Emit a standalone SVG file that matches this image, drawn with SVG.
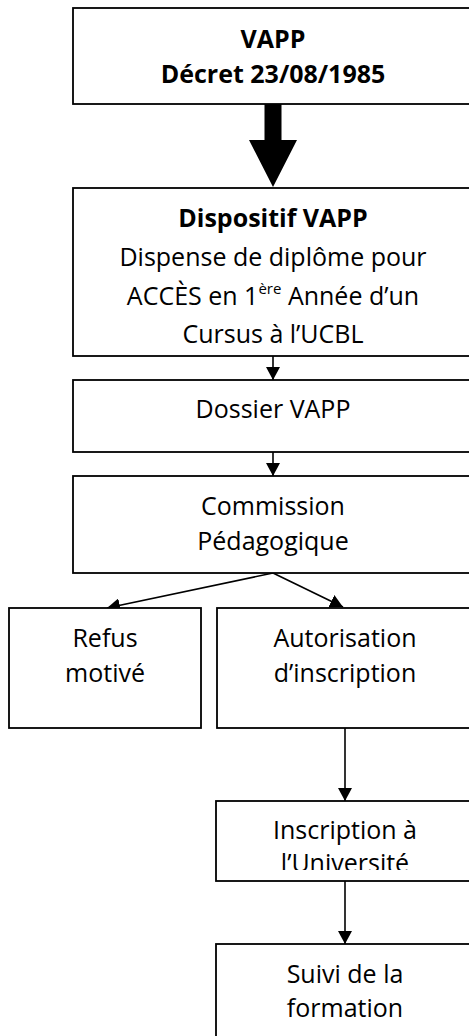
<svg xmlns="http://www.w3.org/2000/svg" width="469" height="1036" viewBox="0 0 469 1036">
  <style>
    .box { fill: #ffffff; stroke: #000000; stroke-width: 1.8; }
    .t { font-family: "Open Sans", "Noto Sans", sans-serif; font-size: 25px; fill: #000000; text-anchor: middle; }
    .b { font-weight: bold; }
    .conn { stroke: #000000; stroke-width: 1.6; fill: none; marker-end: url(#arrow); }
  </style>
  <defs>
    <marker id="arrow" markerUnits="userSpaceOnUse" markerWidth="13" markerHeight="14" refX="13" refY="7" orient="auto">
      <path d="M0,0 L13,7 L0,14 Z" fill="#000000"/>
    </marker>
    <clipPath id="clipUniv">
      <rect x="216" y="800" width="260" height="70"/>
    </clipPath>
  </defs>
  <rect width="469" height="1036" fill="#ffffff"/>

  <g id="connectors">
    <polygon points="264.5,104 281.5,104 281.5,140 297,140 273,187 249,140 264.5,140" fill="#000000"/>
    <line class="conn" x1="273" y1="356" x2="273" y2="380"/>
    <line class="conn" x1="273" y1="452" x2="273" y2="476"/>
    <line class="conn" x1="273" y1="573" x2="107" y2="608"/>
    <line class="conn" x1="273" y1="573" x2="343" y2="607"/>
    <line class="conn" x1="345" y1="728" x2="345" y2="801"/>
    <line class="conn" x1="345" y1="881" x2="345" y2="944"/>
  </g>

  <g id="node-vapp">
    <rect class="box" x="73" y="8" width="400" height="96"/>
    <text class="t b" x="273" y="47.5">VAPP</text>
    <text class="t b" x="273" y="83">Décret 23/08/1985</text>
  </g>

  <g id="node-dispositif">
    <rect class="box" x="73" y="188" width="400" height="168"/>
    <text class="t b" x="273" y="227">Dispositif VAPP</text>
    <text class="t" x="273" y="266">Dispense de diplôme pour</text>
    <text class="t" x="273" y="305">ACCÈS en 1<tspan dy="-11" font-size="15">ère</tspan><tspan dy="11"> Année d’un</tspan></text>
    <text class="t" x="273" y="343">Cursus à l’UCBL</text>
  </g>

  <g id="node-dossier">
    <rect class="box" x="73" y="380" width="400" height="72"/>
    <text class="t" x="273" y="418">Dossier VAPP</text>
  </g>

  <g id="node-commission">
    <rect class="box" x="73" y="476" width="400" height="97"/>
    <text class="t" x="273" y="515">Commission</text>
    <text class="t" x="273" y="550">Pédagogique</text>
  </g>

  <g id="node-refus">
    <rect class="box" x="9" y="608" width="192" height="120"/>
    <text class="t" x="105" y="647">Refus</text>
    <text class="t" x="105" y="682">motivé</text>
  </g>

  <g id="node-autorisation">
    <rect class="box" x="217" y="608" width="256" height="120"/>
    <text class="t" x="345" y="647">Autorisation</text>
    <text class="t" x="345" y="682">d’inscription</text>
  </g>

  <g id="node-inscription">
    <rect class="box" x="216" y="801" width="257" height="80"/>
    <text class="t" x="345" y="839">Inscription à</text>
    <text class="t" x="345" y="872" clip-path="url(#clipUniv)">l’Université</text>
  </g>

  <g id="node-suivi">
    <rect class="box" x="216" y="944" width="257" height="100"/>
    <text class="t" x="345" y="983">Suivi de la</text>
    <text class="t" x="345" y="1017">formation</text>
  </g>
</svg>
